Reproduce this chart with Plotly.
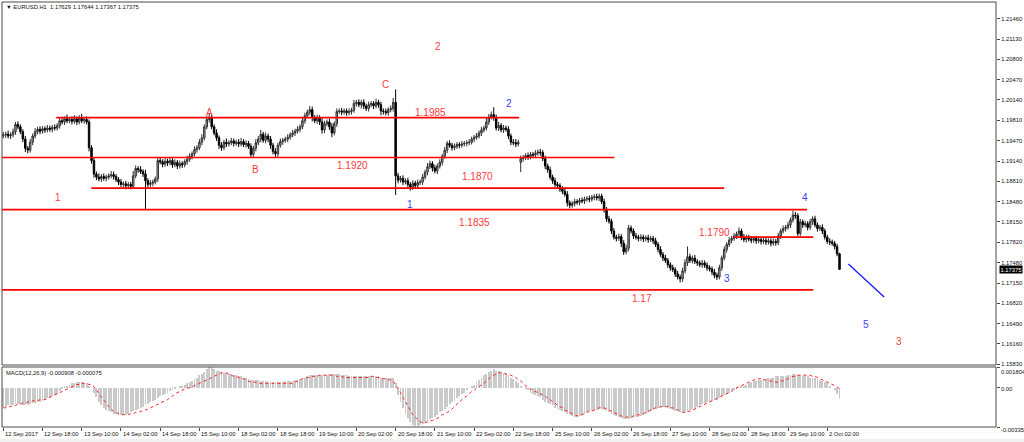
import plotly.graph_objects as go

# ---------------- DATA ----------------
first_open = 1.1955
closes = [
    1.1957,1.1958,1.1955,1.1957,1.1962,1.1974,1.1970,1.1962,1.1950,1.1935,1.1932,1.1945,1.1955,1.1962,1.1966,1.1963,1.1967,1.1965,1.1968,1.1966,
    1.1969,1.1968,1.1972,1.1980,1.1978,1.1983,1.1980,1.1982,1.1979,1.1983,1.1978,1.1984,1.1980,1.1982,1.1978,1.1936,1.1915,1.1893,1.1888,1.1885,
    1.1889,1.1886,1.1888,1.1890,1.1892,1.1889,1.1884,1.1880,1.1876,1.1877,1.1874,1.1876,1.1873,1.1890,1.1902,1.1900,1.1897,1.1893,1.1882,1.1876,
    1.1878,1.1880,1.1885,1.1915,1.1913,1.1909,1.1914,1.1911,1.1915,1.1908,1.1912,1.1906,1.1910,1.1908,1.1913,1.1917,1.1922,1.1926,1.1933,1.1936,
    1.1945,1.1952,1.1970,1.1982,1.1985,1.1970,1.1960,1.1952,1.1940,1.1936,1.1945,1.1942,1.1944,1.1947,1.1943,1.1945,1.1942,1.1946,1.1941,1.1943,
    1.1938,1.1925,1.1935,1.1944,1.1950,1.1958,1.1948,1.1955,1.1950,1.1940,1.1930,1.1926,1.1940,1.1946,1.1948,1.1950,1.1953,1.1957,1.1960,1.1963,
    1.1966,1.1970,1.1980,1.1988,1.1994,1.1998,1.1985,1.1980,1.1985,1.1978,1.1965,1.1975,1.1978,1.1970,1.1960,1.1975,1.1995,1.1996,1.1994,1.1996,
    1.1993,1.1995,1.1997,1.2008,1.2010,1.2006,1.2010,1.2004,1.2000,1.2006,1.2008,1.2004,1.2010,1.2006,1.1996,1.1995,1.1993,1.1998,1.2000,1.2010,
    1.1890,1.1883,1.1886,1.1880,1.1882,1.1876,1.1872,1.1878,1.1874,1.1879,1.1880,1.1888,1.1896,1.1905,1.1910,1.1903,1.1898,1.1906,1.1912,1.1922,
    1.1932,1.1943,1.1940,1.1936,1.1938,1.1941,1.1940,1.1942,1.1943,1.1944,1.1945,1.1950,1.1953,1.1955,1.1960,1.1965,1.1968,1.1978,1.1986,1.1990,
    1.1985,1.1968,1.1972,1.1965,1.1968,1.1966,1.1955,1.1945,1.1944,1.1942,1.1945,1.1918,1.1920,1.1923,1.1921,1.1925,1.1924,1.1927,1.1929,1.1928,
    1.1918,1.1906,1.1900,1.1888,1.1882,1.1876,1.1874,1.1868,1.1865,1.1860,1.1846,1.1842,1.1845,1.1848,1.1847,1.1850,1.1849,1.1852,1.1853,1.1852,
    1.1855,1.1856,1.1854,1.1857,1.1848,1.1835,1.1820,1.1816,1.1800,1.1790,1.1788,1.1791,1.1780,1.1766,1.1772,1.1805,1.1800,1.1792,1.1790,1.1788,
    1.1790,1.1787,1.1789,1.1786,1.1788,1.1784,1.1778,1.1770,1.1762,1.1756,1.1752,1.1745,1.1740,1.1737,1.1730,1.1725,1.1722,1.1735,1.1748,1.1758,
    1.1752,1.1756,1.1750,1.1748,1.1745,1.1748,1.1744,1.1740,1.1738,1.1733,1.1728,1.1725,1.1740,1.1756,1.1770,1.1778,1.1785,1.1788,1.1792,1.1795,
    1.1800,1.1790,1.1786,1.1790,1.1787,1.1785,1.1788,1.1784,1.1786,1.1783,1.1785,1.1782,1.1784,1.1780,1.1783,1.1781,1.1792,1.1800,1.1804,1.1806,
    1.1810,1.1818,1.1826,1.1825,1.1796,1.1815,1.1810,1.1812,1.1806,1.1815,1.1820,1.1810,1.1804,1.1806,1.1800,1.1790,1.1783,1.1782,1.1780,1.1775,
    1.17629,1.17375,
]
# upper / lower shadows in pips
wick_up = [
    5,4,6,4,5,4,5,4,4,5,4,5,4,6,4,5,4,4,5,4,
    4,5,4,6,5,4,7,4,5,6,4,5,7,4,5,4,4,5,4,6,
    4,5,4,4,6,5,4,4,5,4,5,4,4,8,5,4,6,4,7,4,
    5,4,4,6,5,4,5,4,6,4,5,4,5,4,4,6,5,4,5,4,
    5,6,4,5,6,5,4,6,4,5,4,6,4,5,4,4,5,6,4,5,
    4,5,4,6,5,7,4,6,4,5,4,5,4,5,4,4,5,4,5,4,
    5,4,6,5,4,6,5,4,5,4,6,5,4,5,6,4,5,4,5,4,
    4,5,4,6,4,5,4,5,4,5,4,4,6,4,5,4,5,4,5,7,
    21,5,4,5,4,5,4,5,4,5,4,5,4,6,5,4,5,4,5,4,
    5,4,5,4,5,4,4,5,4,4,5,4,4,5,4,5,4,6,5,5,
    12,5,6,4,5,4,5,4,5,6,4,5,4,4,5,4,4,5,4,5,
    4,5,4,5,4,5,4,4,5,4,5,4,4,5,4,4,5,4,4,5,
    4,4,5,4,4,5,4,5,4,5,4,5,4,5,6,5,4,4,5,4,
    5,4,4,5,4,4,5,4,5,4,5,4,4,5,4,5,4,5,6,17,
    5,4,5,4,4,5,4,5,4,4,5,4,5,4,5,4,5,4,5,4,
    6,4,5,4,4,5,4,4,5,4,4,5,4,4,5,4,5,4,5,4,
    5,4,7,5,4,5,4,5,4,5,4,5,4,4,5,4,4,5,4,4,
    4,1.5,
]
wick_dn = [
    4,5,4,5,4,5,4,4,5,6,5,4,5,4,4,5,4,5,4,4,
    5,4,4,5,4,5,4,4,5,4,5,4,4,5,4,6,5,6,5,4,
    5,4,5,4,4,5,4,5,4,5,6,4,5,4,4,5,4,5,46,5,
    4,5,4,5,4,5,4,5,4,5,4,5,4,5,4,5,4,5,4,5,
    4,5,4,4,5,4,4,5,6,5,4,5,4,4,5,4,5,4,4,5,
    4,6,4,5,4,5,4,5,5,6,5,6,5,4,5,4,5,4,4,5,
    4,5,4,5,4,5,6,4,5,5,6,5,4,5,7,4,5,4,5,4,
    5,4,5,4,5,4,6,5,4,5,4,5,4,5,7,5,4,5,4,5,
    31,5,4,5,4,5,6,5,4,5,4,5,4,5,4,6,4,5,4,5,
    4,5,4,5,4,4,5,4,4,5,4,4,5,4,4,5,4,4,5,4,
    5,4,5,4,5,4,5,5,4,5,4,16,5,4,5,4,5,4,4,5,
    4,5,5,4,5,4,5,4,5,4,6,5,4,5,4,5,4,5,4,5,
    4,5,4,5,4,5,5,4,5,4,5,4,6,5,4,5,4,5,4,5,
    4,5,4,5,4,5,4,5,4,5,4,5,5,4,5,4,6,5,4,5,
    4,5,4,5,4,5,4,5,4,5,5,5,4,5,4,5,4,5,4,5,
    4,5,4,5,4,5,4,5,4,5,4,5,4,5,4,5,4,5,4,5,
    4,5,4,5,4,4,5,4,5,4,5,4,5,4,5,4,4,5,4,5,
    4,0.8,
]
gap_opens = {211: 1.1912}

# MACD(12,26,9) main (histogram) and signal, in units of 0.0001
macd_main = [
    -16,-16,-15,-15,-15,-14, -14,-14,-15,-15,-15,-14, -13,-13,-12,-12,-11,-10,
    -9,-8,-7,-6,-5,-3, -1,1,2,3,4,4, 5,5,5,4,4,2,
    0,-4,-8,-12,-15,-17, -19,-20,-21,-22,-22,-23, -23,-23,-23,-22,-21,-20,
    -19,-18,-17,-16,-15,-14, -12,-11,-10,-9,-7,-6, -5,-4,-3,-2,-1,0,
    1,2,3,4,5,6, 8,9,11,12,14,16, 18,18,16,15,15,14,
    13,13,12,12,11,11, 10,10,9,9,8,7, 7,7,7,6,6,6,
    5,5,5,5,5,5, 5,6,6,6,6,7, 7,8,8,9,10,11,
    11,11,11,11,11,11, 11,12,12,12,12,12, 11,11,11,10,10,10,
    10,10,10,10,10,10, 10,10,10,10,9,9, 9,9,9,9,4,-6,
    -12,-17,-22,-26,-29,-32, -33,-33,-32,-31,-30,-28, -27,-26,-25,-23,-21,-20,
    -18,-16,-14,-12,-11,-9, -7,-5,-4,-2,0,2, 3,5,7,9,11,12,
    14,15,16,15,15,14, 13,12,11,9,8,6, 4,2,0,-1,-2,-4,
    -5,-6,-7,-8,-10,-12, -13,-14,-15,-17,-18,-19, -20,-21,-22,-23,-24,-25,
    -25,-24,-23,-22,-21,-20, -20,-19,-19,-18,-18,-19, -20,-21,-22,-23,-24,-25,
    -26,-27,-27,-27,-26,-26, -25,-25,-24,-23,-22,-21, -20,-19,-18,-17,-17,-16,
    -16,-17,-18,-19,-20,-20, -21,-21,-21,-20,-19,-18, -17,-16,-15,-14,-13,-12,
    -12,-11,-10,-10,-9,-7, -6,-5,-4,-3,-2,-1, 0,1,2,3,4,5,
    6,6,7,7,8,8, 9,9,9,10,10,10, 10,10,11,11,12,12,
    11,11,10,10,10,9, 9,9,8,7,6,5, 4,2,0,-2,-5,-9.08,
]
macd_signal = [
    -17,-17,-16,-16,-15,-15, -14,-14,-13,-13,-12,-12, -11,-11,-11,-10,-10,-10,
    -9,-8,-7,-6,-5,-4, -3,-2,-1,0,1,2, 3,3,4,4,4,3,
    3,1,-2,-5,-8,-11, -14,-16,-18,-20,-21,-22, -23,-23,-23,-23,-22,-22,
    -21,-21,-20,-20,-19,-18, -17,-16,-15,-14,-13,-12, -11,-10,-8,-7,-5,-4,
    -3,-2,-1,0,0,1, 2,3,4,5,6,7, 8,9,10,11,12,13,
    13,13,12,11,10,10, 9,8,8,7,6,5, 5,5,4,4,4,4,
    4,4,4,4,4,4, 4,4,4,4,4,5, 6,7,8,8,9,9,
    10,10,10,11,11,11, 11,11,11,11,10,10, 10,9,9,9,9,9,
    9,9,9,9,9,9, 10,10,9,9,9,8, 8,7,7,6,3,0,
    -4,-8,-12,-16,-20,-23, -25,-27,-29,-30,-30,-29, -28,-28,-27,-26,-25,-23,
    -22,-21,-20,-18,-16,-14, -12,-10,-8,-7,-5,-3, -2,0,1,3,4,6,
    8,10,11,12,13,13, 13,12,12,11,10,9, 7,6,4,2,1,-1,
    -2,-3,-4,-5,-6,-7, -9,-10,-12,-13,-15,-16, -17,-19,-20,-21,-22,-23,
    -24,-24,-23,-22,-21,-20, -20,-19,-18,-17,-17,-17, -18,-19,-20,-21,-22,-23,
    -24,-25,-25,-25,-25,-24, -24,-23,-23,-22,-21,-20, -19,-18,-17,-17,-16,-16,
    -16,-16,-17,-17,-18,-19, -20,-21,-21,-20,-20,-19, -18,-17,-16,-15,-14,-13,
    -12,-11,-10,-9,-8,-7, -6,-5,-4,-3,-1,0, 1,2,3,4,5,6,
    7,7,8,8,7,7, 6,6,6,5,5,6, 6,7,8,9,10,10,
    11,11,11,11,11,11, 10,10,9,8,7,6, 5,4,3,2,1,-0.75,
]

time_labels = ["12 Sep 2017", "12 Sep 18:00", "13 Sep 10:00", "14 Sep 02:00", "14 Sep 18:00",
               "15 Sep 10:00", "18 Sep 02:00", "18 Sep 18:00", "19 Sep 10:00", "20 Sep 02:00",
               "20 Sep 18:00", "21 Sep 10:00", "22 Sep 02:00", "22 Sep 18:00", "25 Sep 10:00",
               "26 Sep 02:00", "26 Sep 18:00", "27 Sep 10:00", "28 Sep 02:00", "28 Sep 18:00",
               "29 Sep 10:00", "2 Oct 02:00"]
bars_per_label = 16
price_ticks = [1.21460, 1.21130, 1.20800, 1.20470, 1.20140, 1.19810, 1.19470, 1.19140, 1.18810,
               1.18480, 1.18150, 1.17820, 1.17480, 1.17150, 1.16820, 1.16490, 1.16160, 1.15830]
macd_ticks = [0.001804, 0.0, -0.003354]
macd_tick_text = ["0.001804", "0.00", "-0.003354"]

levels = [1.1985, 1.1920, 1.1870, 1.1835, 1.1790, 1.1704]
level_labels = ["1.1985", "1.1920", "1.1870", "1.1835", "1.1790", "1.17"]
wave_labels_red = ["2", "C", "A", "B", "1", "3"]
wave_labels_blue = ["1", "2", "3", "4", "5"]

title_text = "\u25BC EURUSD,H1  1.17629 1.17644 1.17367 1.17375"
macd_text = "MACD(12,26,9) -0.000908 -0.000075"

n = len(closes)
assert len(wick_up) == n and len(wick_dn) == n, (len(wick_up), len(wick_dn), n)
assert len(macd_main) == n and len(macd_signal) == n, (len(macd_main), len(macd_signal), n)

idx = list(range(n))
opens = [first_open] + closes[:-1]
for k, v in gap_opens.items():
    opens[k] = v
highs = [max(o, c) + u * 1e-4 for o, c, u in zip(opens, closes, wick_up)]
lows = [min(o, c) - d * 1e-4 for o, c, d in zip(opens, closes, wick_dn)]
highs[-1] = 1.17644
lows[-1] = 1.17367

# ---------------- LAYOUT GEOMETRY ----------------
W, H = 1024, 442
ML, MR, MT, MB = 2, 28, 2, 15
PH = H - MT - MB
def py(pix):  # pixel row -> paper fraction
    return (H - MB - pix) / PH

main_dom = [py(365), 1.0]
macd_dom = [0.0, py(367)]
x_range = [-0.5, 404.8]
y_range = [1.15814, 1.21737]
m_range = [-0.003354, 0.001804]

RED_LINE = "#ff0000"
RED_TXT = "#ff3b3b"
BLUE_TXT = "#3b3bff"
FRAME = "#4a4a4a"
FONT = "Liberation Sans"
SMALL = "Liberation Sans"
SS = 5.8

fig = go.Figure()
fig.add_trace(go.Candlestick(
    x=idx, open=opens, high=highs, low=lows, close=closes,
    increasing=dict(line=dict(color="#303030", width=1), fillcolor="#b0b0b0"),
    decreasing=dict(line=dict(color="#000000", width=1), fillcolor="#000000"),
    whiskerwidth=0, xaxis="x", yaxis="y", hoverinfo="skip", showlegend=False))
fig.add_trace(go.Bar(
    x=idx, y=[v * 1e-4 for v in macd_main], width=0.36,
    marker=dict(color="#cacaca", line=dict(width=0)),
    xaxis="x", yaxis="y2", hoverinfo="skip", showlegend=False))
fig.add_trace(go.Scatter(
    x=idx, y=[v * 1e-4 for v in macd_signal], mode="lines",
    line=dict(color="#ff2020", width=1, dash="dot"),
    xaxis="x", yaxis="y2", hoverinfo="skip", showlegend=False))

shapes = []
shapes.append(dict(type="rect", xref="paper", yref="paper", x0=0, x1=1, y0=main_dom[0], y1=1,
                   line=dict(color=FRAME, width=1), layer="above"))
shapes.append(dict(type="rect", xref="paper", yref="paper", x0=0, x1=1, y0=macd_dom[0], y1=macd_dom[1],
                   line=dict(color=FRAME, width=1), layer="above"))
shapes.append(dict(type="rect", xref="paper", yref="paper", x0=-0.01, x1=1.05, y0=py(442), y1=py(439),
                   fillcolor="#f0f0f0", line=dict(width=0)))
spans = [(21.6, 210.4), (-0.5, 249.2), (35.9, 294.0), (-0.5, 327.8), (298.0, 330.3), (-0.5, 330.3)]
for lv, (a, b) in zip(levels, spans):
    shapes.append(dict(type="line", xref="x", yref="y", x0=a, x1=b, y0=lv, y1=lv,
                       line=dict(color=RED_LINE, width=1.6)))
shapes.append(dict(type="line", xref="x", yref="y", x0=344.6, y0=1.17462, x1=359.2, y1=1.16923,
                   line=dict(color="#1a1aff", width=1.3)))

ann = []
def txt(t, x, y, color, size=10, **kw):
    d = dict(text=t, x=x, y=y, xref="x", yref="y", showarrow=False,
             font=dict(family=FONT, size=size, color=color))
    d.update(kw)
    ann.append(d)

label_pos = [(174.3, 1.19935), (142.5, 1.19072), (193.3, 1.18882), (192.2, 1.18147), (290.1, 1.17984), (260.6, 1.16891)]
for t, (x, y) in zip(level_labels, label_pos):
    txt(t, x, y, RED_TXT)
red_pos = [(177.4, 1.21003), (155.8, 1.20399), (84.0, 1.19942), (102.8, 1.18996), (22.3, 1.18555), (365.4, 1.16195)]
for t, (x, y) in zip(wave_labels_red, red_pos):
    txt(t, x, y, RED_TXT)
blue_pos = [(166.0, 1.18425), (206.2, 1.20089), (295.2, 1.17233), (327.0, 1.18555), (351.9, 1.16483)]
for t, (x, y) in zip(wave_labels_blue, blue_pos):
    txt(t, x, y, BLUE_TXT)

ann.append(dict(text=title_text, xref="paper", yref="paper", x=0.002, y=py(7.5), xanchor="left",
                yanchor="middle", showarrow=False, font=dict(family=SMALL, size=SS, color="#111111")))
ann.append(dict(text=macd_text, xref="paper", yref="paper", x=0.002, y=py(372.5), xanchor="left",
                yanchor="middle", showarrow=False, font=dict(family=SMALL, size=SS, color="#111111")))
for k, t in enumerate(time_labels):
    ann.append(dict(text=t, xref="x", yref="paper", x=k * bars_per_label, y=py(433.5), xanchor="left",
                    yanchor="middle", xshift=0, showarrow=False,
                    font=dict(family=SMALL, size=SS, color="#111111")))
for t, pix in zip(macd_tick_text, [372, 389, 430]):
    ann.append(dict(text=t, xref="paper", yref="paper", x=1, y=py(pix), xanchor="left", yanchor="middle",
                    xshift=3, showarrow=False, font=dict(family=SMALL, size=SS, color="#111111")))
ann.append(dict(text=f"{closes[-1]:.5f}", xref="paper", yref="y", x=1, y=closes[-1], xanchor="left",
                yanchor="middle", xshift=3, showarrow=False, bgcolor="#000000", borderpad=0.5,
                font=dict(family=SMALL, size=SS, color="#ffffff")))

fig.update_layout(
    width=W, height=H, margin=dict(l=ML, r=MR, t=MT, b=MB, pad=0),
    paper_bgcolor="#ffffff", plot_bgcolor="#ffffff", showlegend=False,
    bargap=0, boxgap=0.15,
    xaxis=dict(domain=[0, 1], range=x_range, anchor="y2", showgrid=False, zeroline=False,
               tickvals=[k * bars_per_label for k in range(len(time_labels))], showticklabels=False,
               ticks="outside", ticklen=3, tickcolor=FRAME, showline=False,
               rangeslider=dict(visible=False), fixedrange=True),
    yaxis=dict(domain=main_dom, range=y_range, side="right", anchor="x", showgrid=False, zeroline=False,
               tickvals=price_ticks, ticktext=[f"{v:.5f}" for v in price_ticks], ticks="outside",
               ticklen=3, tickcolor=FRAME, tickfont=dict(family=SMALL, size=SS, color="#111111"),
               showline=False, fixedrange=True),
    yaxis2=dict(domain=macd_dom, range=m_range, side="right", anchor="x", showgrid=False, zeroline=False,
                tickvals=macd_ticks, showticklabels=False, ticks="outside", ticklen=3, tickcolor=FRAME,
                showline=False, fixedrange=True),
    shapes=shapes, annotations=ann,
)
fig.write_html("out.html", config={"displayModeBar": False},
               post_script="document.body.style.margin='0';document.body.style.padding='0';"
                           "document.documentElement.style.overflow='hidden';")
